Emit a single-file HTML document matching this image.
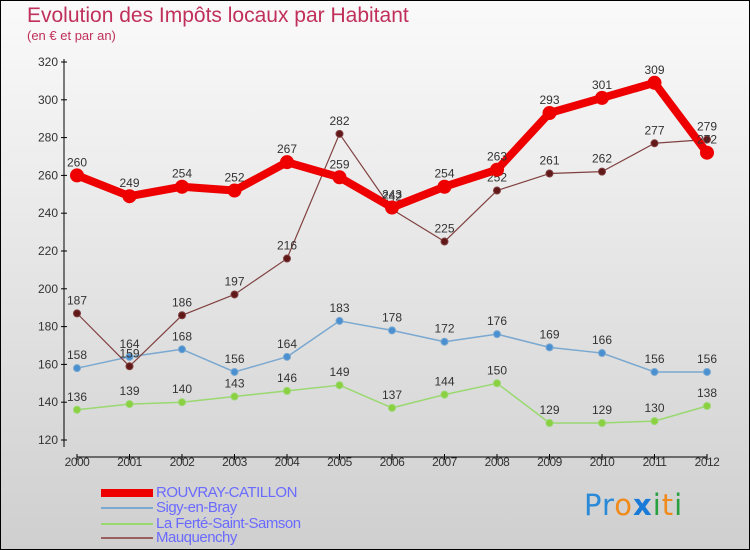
<!DOCTYPE html>
<html><head><meta charset="utf-8"><style>
body{margin:0}
#c{width:750px;height:550px;position:relative;overflow:hidden;border:1px solid #000;box-sizing:border-box;background:linear-gradient(#fafafa,#cfcfcf);font-family:"Liberation Sans",sans-serif}
.t{position:absolute;color:#c0305a}
.lg{position:absolute;left:155px;font-size:15px;color:#6a6aff;letter-spacing:-0.5px}
.sw{position:absolute;left:100px;width:52px}
</style></head><body>
<div id="c">
<div class="t" style="left:26px;top:3px;font-size:21px">Evolution des Impôts locaux par Habitant</div>
<div class="t" style="left:26px;top:27px;font-size:13px">(en € et par an)</div>
<svg id="s" width="750" height="550" style="position:absolute;left:0;top:0"></svg>
<div class="sw" style="top:488px;height:8px;background:#e00"></div>
<div class="lg" style="top:483px">ROUVRAY-CATILLON</div>
<div class="sw" style="top:506px;height:2px;background:#7aa8d0"></div>
<div class="lg" style="top:498px">Sigy-en-Bray</div>
<div class="sw" style="top:522px;height:2px;background:#9ad870"></div>
<div class="lg" style="top:514px">La Ferté-Saint-Samson</div>
<div class="sw" style="top:536px;height:2px;background:#9a6060"></div>
<div class="lg" style="top:528px">Mauquenchy</div>
<div style="position:absolute;left:583px;top:487px;font-size:29px;font-family:'DejaVu Sans',sans-serif;letter-spacing:1px"><span style="color:#2a8ad8">Pr</span><span style="color:#f08a1a">o</span><span style="color:#1a7ad8;font-weight:bold">x</span><span style="color:#28a040">i</span><span style="color:#f08a1a">t</span><span style="color:#28a040">i</span></div>
</div>
<script>
const years=[2000,2001,2002,2003,2004,2005,2006,2007,2008,2009,2010,2011,2012];
const yTicks=[120,140,160,180,200,220,240,260,280,300,320];
const rouvray=[260,249,254,252,267,259,243,254,263,293,301,309,272];
const sigy=[158,164,168,156,164,183,178,172,176,169,166,156,156];
const ferte=[136,139,140,143,146,149,137,144,150,129,129,130,138];
const mauq=[187,159,186,197,216,282,242,225,252,261,262,277,279];
const s=document.getElementById('s');const NS='http://www.w3.org/2000/svg';
const X=i=>76+i*52.5, Y=v=>61+(320-v)*1.89;
function mk(t,a,p){const e=document.createElementNS(NS,t);for(const k in a)e.setAttribute(k,a[k]);(p||s).appendChild(e);return e;}
let e=mk('line',{x1:63,y1:58,x2:63,y2:446,stroke:'#000'});


e=mk('line',{x1:76,y1:456,x2:706,y2:456,stroke:'#000'});


yTicks.forEach(v=>{mk('line',{x1:60,y1:Y(v),x2:66,y2:Y(v),stroke:'#000'});
e=mk('text',{x:57,y:Y(v)+4,'text-anchor':'end','font-size':12,fill:'#333','font-family':'Liberation Sans'});e.textContent=v;

});
years.forEach((y,i)=>{mk('line',{x1:X(i),y1:453,x2:X(i),y2:459,stroke:'#000'});
e=mk('text',{x:X(i),y:465,'text-anchor':'middle','font-size':12,fill:'#333','font-family':'Liberation Sans','letter-spacing':-0.5});e.textContent=y;

});
function series(d,col,w,r,fill,name){
const g=mk('g',{});


mk('polyline',{points:d.map((v,i)=>X(i)+','+Y(v)).join(' '),fill:'none',stroke:col,'stroke-width':w,'stroke-linejoin':'round'},g);
d.forEach((v,i)=>{const c=mk('circle',{cx:X(i),cy:Y(v),r:r,fill:fill,stroke:col},g);


const t=mk('text',{x:X(i),y:Y(v)-9,'text-anchor':'middle','font-size':12,fill:'#333','font-family':'Liberation Sans'},g);t.textContent=v;

});}
series(ferte,'#9ad870',1.5,3.5,'#8ad040','ferte');
series(sigy,'#7aa8d0',1.5,3.5,'#4a90d0','sigy');
series(mauq,'#804040',1.2,3.5,'#601818','mauquenchy');
series(rouvray,'#e00',8,6.5,'#e00','rouvray');
</script>
</body></html>
